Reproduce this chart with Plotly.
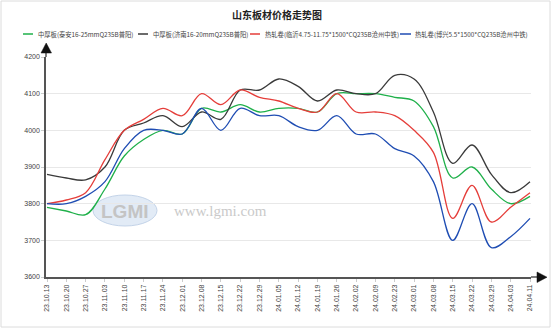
import plotly.graph_objects as go

dates = ["23.10.13","23.10.20","23.10.27","23.11.03","23.11.10","23.11.17","23.11.24",
         "23.12.01","23.12.08","23.12.15","23.12.22","23.12.29","24.01.05","24.01.12",
         "24.01.19","24.01.26","24.02.02","24.02.09","24.02.23","24.03.01","24.03.08",
         "24.03.15","24.03.22","24.03.29","24.04.03","24.04.11"]

taian = [3790, 3780, 3770, 3840, 3930, 3975, 4000, 3990, 4060, 4050, 4070, 4050, 4060,
         4060, 4050, 4100, 4100, 4100, 4090, 4080, 4010, 3870, 3900, 3840, 3800, 3820]
jinan = [3880, 3870, 3865, 3900, 4000, 4020, 4040, 4010, 4050, 4030, 4110, 4110, 4140,
         4120, 4080, 4110, 4100, 4100, 4150, 4140, 4050, 3910, 3960, 3880, 3830, 3860]
linyi = [3800, 3810, 3830, 3920, 4000, 4030, 4060, 4040, 4100, 4070, 4110, 4090, 4080,
         4060, 4050, 4100, 4050, 4050, 4040, 4000, 3940, 3760, 3850, 3750, 3790, 3830]
boxing = [3800, 3800, 3820, 3860, 3950, 4000, 4000, 3990, 4060, 4000, 4060, 4040, 4040,
          4010, 4000, 4040, 3990, 3990, 3950, 3930, 3860, 3700, 3800, 3680, 3710, 3760]

names = ["中厚板(泰安16-25mmQ235B普阳)", "中厚板(济南16-20mmQ235B普阳)",
         "热轧卷(临沂4.75-11.75*1500*CQ235B沧州中铁)", "热轧卷(博兴5.5*1500*CQ235B沧州中铁)"]
series = [taian, jinan, linyi, boxing]
colors = ["#1fb04a", "#3a3a3a", "#e53e3a", "#1f4db3"]

yticks = [3600, 3700, 3800, 3900, 4000, 4100, 4200]

W_FIG, H_FIG = 554, 329
L, R, T, B = 46, 23, 57, 52
PW = W_FIG - L - R
PH = H_FIG - T - B

def px(x):
    return (x - L) / PW

def py(y):
    return (H_FIG - B - y) / PH

fig = go.Figure()
idx = list(range(len(dates)))
for nm, vals, c in zip(names, series, colors):
    fig.add_trace(go.Scatter(x=idx, y=vals, mode="lines", name=nm,
                             line=dict(color=c, width=1.3, shape="spline", smoothing=1.0),
                             showlegend=False))

shapes = []
annotations = []

# frame
shapes.append(dict(type="rect", xref="paper", yref="paper", x0=px(1), x1=px(550),
                   y0=py(327), y1=py(1), line=dict(color="#dcdcdc", width=1), layer="below"))

# watermark logo
shapes.append(dict(type="circle", xref="paper", yref="paper", x0=px(93), x1=px(157),
                   y0=py(226), y1=py(195), fillcolor="#e2ebf6",
                   line=dict(color="#c3d3e8", width=1), layer="below"))
annotations.append(dict(xref="paper", yref="paper", x=px(125), y=py(211), text="<b>LGMI</b>",
                        xanchor="center", yanchor="middle", showarrow=False,
                        font=dict(size=19, color="#c4c4c4", family="Liberation Sans")))
annotations.append(dict(xref="paper", yref="paper", x=px(220), y=py(211), text="www.lgmi.com",
                        xanchor="center", yanchor="middle", showarrow=False,
                        font=dict(size=15, color="#cacaca", family="Liberation Serif")))

# axis extensions and arrows
shapes.append(dict(type="line", xref="paper", yref="paper", x0=0, x1=0, y0=1, y1=py(52),
                   line=dict(color="#555", width=1.5)))
shapes.append(dict(type="path", xref="paper", yref="paper",
                   path=f"M {px(41)} {py(53)} L {px(51.5)} {py(53)} L {px(46.2)} {py(43)} Z",
                   fillcolor="#111", line=dict(color="#111", width=0.5)))
shapes.append(dict(type="line", xref="paper", yref="paper", x0=1, x1=px(538), y0=0, y1=0,
                   line=dict(color="#555", width=1.5)))
shapes.append(dict(type="path", xref="paper", yref="paper",
                   path=f"M {px(537)} {py(272)} L {px(537)} {py(282.5)} L {px(547)} {py(277.2)} Z",
                   fillcolor="#111", line=dict(color="#111", width=0.5)))

# custom legend
leg_y = py(34)
leg_lines = [(23, 33), (138, 148), (250, 260), (400, 411)]
leg_text = [36, 151, 263, 413]
for (a, b), t, nm, c in zip(leg_lines, leg_text, names, colors):
    shapes.append(dict(type="line", xref="paper", yref="paper", x0=px(a), x1=px(b),
                       y0=leg_y, y1=leg_y, line=dict(color=c, width=1.5)))
    annotations.append(dict(xref="paper", yref="paper", x=px(t), y=leg_y, text=nm,
                            xanchor="left", yanchor="middle", showarrow=False,
                            font=dict(size=6.3, color="#444", family="Noto Sans CJK SC")))

fig.update_layout(
    width=W_FIG, height=H_FIG,
    margin=dict(l=L, r=R, t=T, b=B),
    paper_bgcolor="white", plot_bgcolor="white",
    title=dict(text="<b>山东板材价格走势图</b>", x=0.5, xanchor="center", y=1 - 15 / H_FIG,
               yanchor="middle", font=dict(size=10, color="#222", family="Noto Sans CJK SC")),
    shapes=shapes, annotations=annotations,
    xaxis=dict(range=[-1 / 19.32, 25 + 1 / 19.32], tickmode="array", tickvals=idx, ticktext=dates,
               tickangle=-90, tickfont=dict(size=7, color="#444", family="Liberation Sans"),
               showgrid=False, zeroline=False, showline=True, linecolor="#555", linewidth=1.5,
               ticks="outside", ticklen=3, tickcolor="#ccc"),
    yaxis=dict(range=[3600, 4200], tickmode="array", tickvals=yticks,
               tickfont=dict(size=7, color="#444", family="Liberation Sans"),
               showgrid=True, gridcolor="#e8e8e8", gridwidth=1, zeroline=False,
               showline=True, linecolor="#555", linewidth=1.5,
               ticks="outside", ticklen=3, tickcolor="#ccc"),
)

fig.write_html("out.html")
